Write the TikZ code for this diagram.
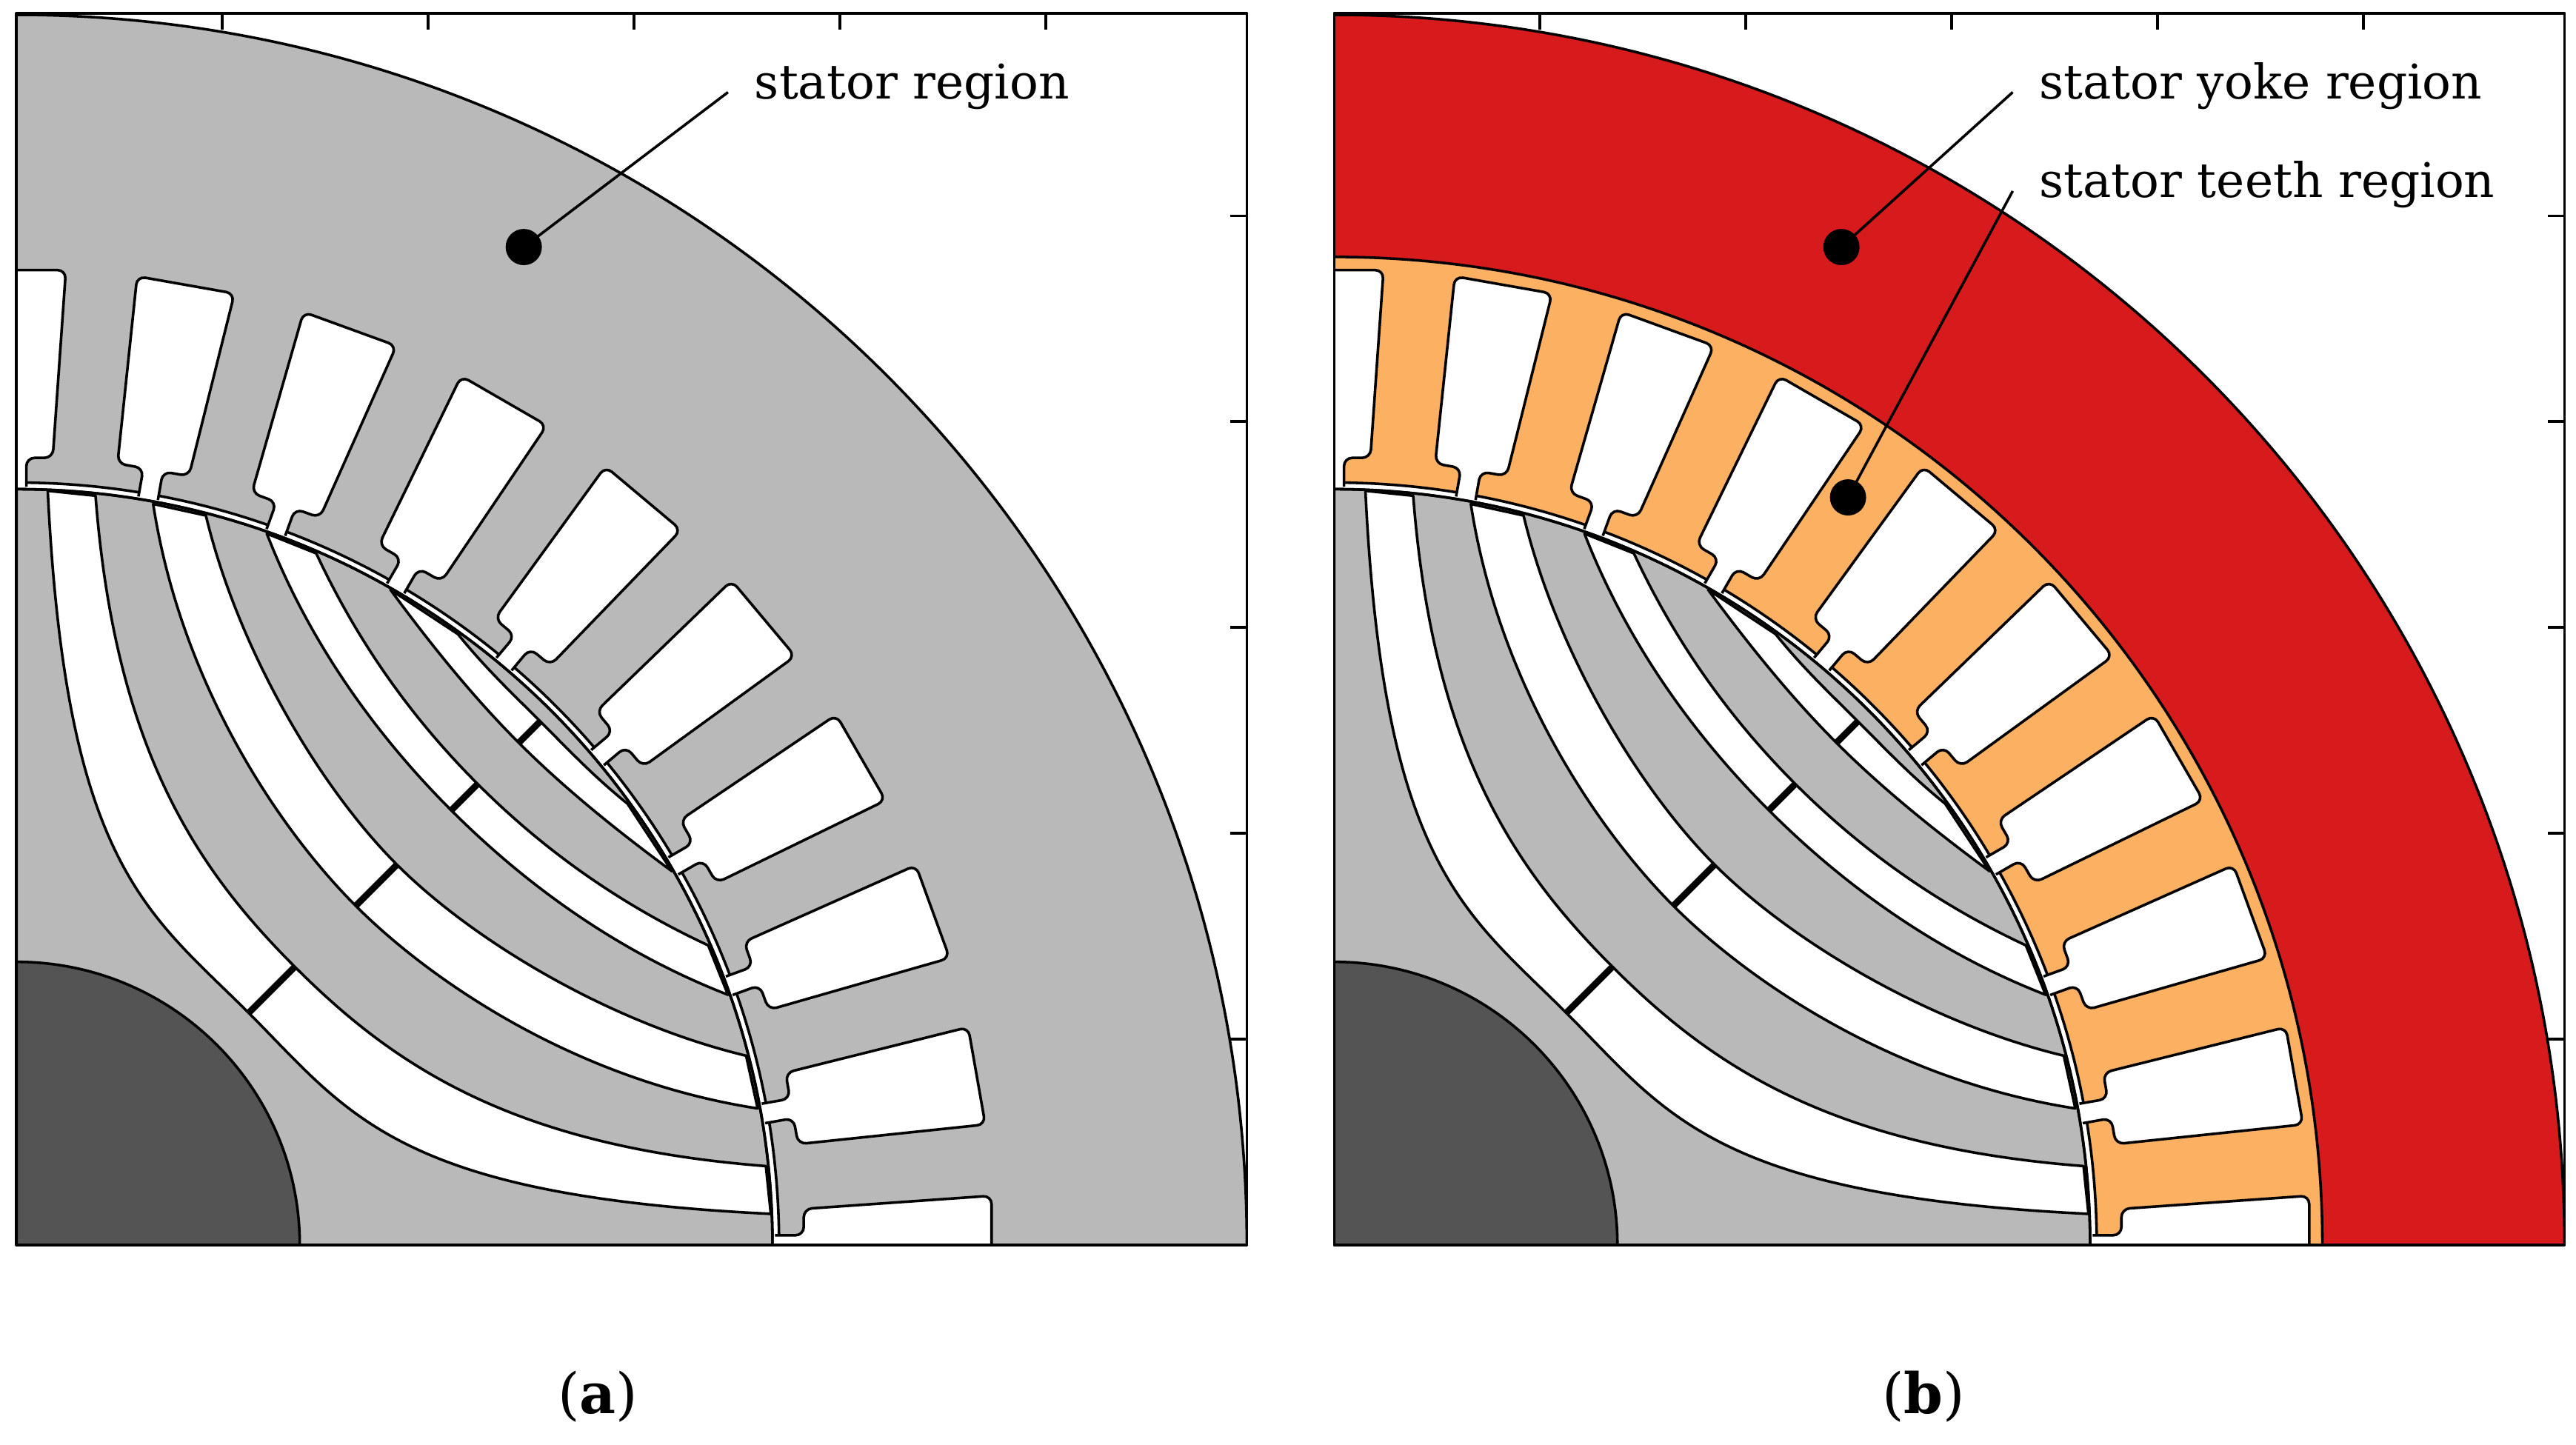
\documentclass[tikz,border=0pt]{standalone}
\usepackage{fontspec}
\setmainfont{DejaVu Serif}
\definecolor{sgray}{HTML}{B9B9B9}
\definecolor{shaft}{HTML}{545454}
\definecolor{yoke}{HTML}{D71A1C}
\definecolor{teeth}{HTML}{FBB062}
\begin{document}
\begin{tikzpicture}[x=1pt,y=1pt,line join=round,
  lbl/.style={anchor=base west,font=\fontsize{29}{34}\selectfont,inner sep=0},
  dot/.style={circle,fill=black,inner sep=0,minimum size=22pt},
  edge/.style={line width=1.6pt}]
\useasboundingbox (0,0) rectangle (1564,877);
\newcommand\machine[3]{%
  \foreach \k in {1,...,5}{\draw[edge] (125*\k,748)--++(0,-10); \draw[edge] (747,125*\k)--++(-10,0);}
  \begin{scope}
  \clip (0,0) rectangle (747,748);
  \fill[#1] (0,0)--(747,0) arc (0:90:747)--cycle;
  \draw[edge] (747,0) arc (0:90:747);
  \fill[#2] (0,0)--(600,0) arc (0:90:600)--cycle;
  #3
  \fill[white] (0,0)--(463,0) arc (0:90:463)--cycle;
  \draw[edge] (463,0) arc (0:90:463);
  \foreach \a in {0,10,...,90}{
    \fill[white,rotate=\a,rounded corners=5] (459,-6)--(478,-6)--(478,-22)--(592,-30)--(592,30)--(478,22)--(478,6)--(459,6)--cycle;
    \draw[edge,rotate=\a,rounded corners=5] (460.5,-6)--(478,-6)--(478,-22)--(592,-30)--(592,30)--(478,22)--(478,6)--(460.5,6);
  }
  \draw[edge,fill=sgray] (0,0)--(459,0) arc (0:90:459)--cycle;
  \foreach \ax/\ay/\bx/\by/\cx/\cy/\m/\Ax/\Ay/\Bx/\By/\Cx/\Cy/\M in {
     19/458/30/230/80/202/141/48/455/60/300/110/228/169,
     83/450/100/340/160/252/206/115/443/135/360/185/277/231,
     152/432/180/360/224/304/264/182/420/210/360/245/315/280,
     227/398/255/360/280/330/305/268/371/285/350/300/336/318}{
    \draw[edge,fill=white] (\ax,\ay) .. controls (\bx,\by) and (\cx,\cy) .. (\m,\m) .. controls (\cy,\cx) and (\by,\bx) .. (\ay,\ax)
      -- (\Ay,\Ax) .. controls (\By,\Bx) and (\Cy,\Cx) .. (\M,\M) .. controls (\Cx,\Cy) and (\Bx,\By) .. (\Ax,\Ay) -- cycle;
    \draw[line width=4pt] (\m,\m) -- (\M,\M);
  }
  \draw[edge] (459,0) arc (0:90:459);
  \draw[edge,fill=shaft] (0,0)--(172,0) arc (0:90:172)--cycle;
  \end{scope}
  \draw[edge] (0,0) rectangle (747,748);
}
\begin{scope}[shift={(10,121)}]
  \machine{sgray}{sgray}{}
  \node[dot] (d1) at (308,606) {};
  \coordinate (e1) at (432,700);
  \draw[edge] (d1.center)--(e1);
  \node[lbl] (t1) at (448,696) {stator region};
\end{scope}
\begin{scope}[shift={(810,121)}]
  \machine{yoke}{teeth}{\draw[edge] (600,0) arc (0:90:600);}
  \node[dot] (d2) at (308,606) {};
  \coordinate (e2) at (412,700);
  \draw[edge] (d2.center)--(e2);
  \node[lbl] (t2) at (428,696) {stator yoke region};
  \node[dot] (d3) at (312,454) {};
  \coordinate (e3) at (412,640);
  \draw[edge] (d3.center)--(e3);
  \node[lbl] (t3) at (428,636) {stator teeth region};
\end{scope}
\node[font=\fontsize{34}{40}\selectfont] (ca) at (363,29) {(\textbf{a})};
\node[font=\fontsize{34}{40}\selectfont] (cb) at (1168,29) {(\textbf{b})};
\end{tikzpicture}
\end{document}
